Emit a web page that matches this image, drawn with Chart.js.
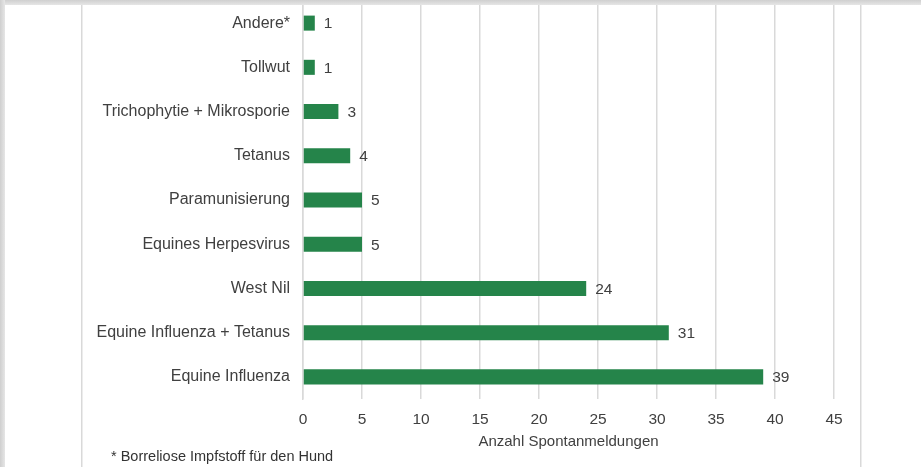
<!DOCTYPE html>
<html>
<head>
<meta charset="utf-8">
<script src="https://cdn.jsdelivr.net/npm/chart.js@4"></script>
<style>
  html, body { margin: 0; padding: 0; background: #fff; }
  canvas { display: block; }
</style>
</head>
<body>
<canvas id="chart" width="921" height="467"></canvas>
<script>
const categories = [
  "Andere*",
  "Tollwut",
  "Trichophytie + Mikrosporie",
  "Tetanus",
  "Paramunisierung",
  "Equines Herpesvirus",
  "West Nil",
  "Equine Influenza + Tetanus",
  "Equine Influenza"
];
const reports = [1, 1, 3, 4, 5, 5, 24, 31, 39];
const xTicks = [0, 5, 10, 15, 20, 25, 30, 35, 40, 45];
const axisTitle = "Anzahl Spontanmeldungen";
const footnote = "* Borreliose Impfstoff für den Hund";

const fontFamily = "'Liberation Sans', Arial, sans-serif";
const textColor = "#404040";
const gridColor = "#d9d9d9";

// value labels at the end of each bar, frame and footnote
const decorations = {
  id: "decorations",
  beforeDraw(chart) {
    const ctx = chart.ctx;
    ctx.save();
    ctx.fillStyle = gridColor;
    ctx.fillRect(81, 0, 1.5, chart.height);
    ctx.fillRect(860, 0, 1.5, chart.height);
    ctx.restore();
  },
  afterDatasetsDraw(chart) {
    const ctx = chart.ctx;
    const meta = chart.getDatasetMeta(0);
    ctx.save();
    ctx.font = "15.5px " + fontFamily;
    ctx.fillStyle = textColor;
    ctx.textAlign = "left";
    ctx.textBaseline = "middle";
    meta.data.forEach((bar, i) => {
      ctx.fillText(String(reports[i]), bar.x + 9, bar.y + 1);
    });
    ctx.restore();
  },
  afterDraw(chart) {
    const ctx = chart.ctx;
    ctx.save();
    ctx.font = "14.5px " + fontFamily;
    ctx.fillStyle = "#333";
    ctx.textAlign = "left";
    ctx.textBaseline = "middle";
    ctx.fillText(footnote, 111, 457);
    // frame shadow
    const top = ctx.createLinearGradient(0, 0, 0, 5);
    top.addColorStop(0, "#cfcfcf");
    top.addColorStop(1, "#e6e6e6");
    ctx.fillStyle = top;
    ctx.fillRect(0, 0, chart.width, 5);
    const left = ctx.createLinearGradient(0, 0, 5, 0);
    left.addColorStop(0, "#cfcfcf");
    left.addColorStop(1, "#e6e6e6");
    ctx.fillStyle = left;
    ctx.fillRect(0, 0, 5, chart.height);
    ctx.restore();
  }
};

new Chart(document.getElementById("chart"), {
  type: "bar",
  data: {
    labels: categories,
    datasets: [{
      data: reports,
      backgroundColor: "#25844a",
      borderWidth: 0,
      categoryPercentage: 1,
      barPercentage: 0.34
    }]
  },
  options: {
    indexAxis: "y",
    responsive: false,
    animation: false,
    layout: { padding: { top: 1, right: 87, left: 0, bottom: 0 } },
    plugins: {
      legend: { display: false },
      tooltip: { enabled: false }
    },
    scales: {
      x: {
        min: 0,
        max: 45,
        afterBuildTicks(scale) {
          scale.ticks = xTicks.map(v => ({ value: v }));
        },
        afterFit(scale) { scale.height = 68; },
        grid: { color: gridColor, lineWidth: 1.5, drawTicks: false },
        border: { display: false },
        ticks: {
          padding: 11,
          color: textColor,
          font: { family: fontFamily, size: 15.5 }
        },
        title: {
          display: true,
          text: axisTitle,
          color: textColor,
          font: { family: fontFamily, size: 15 },
          padding: { top: 0, bottom: 16 }
        }
      },
      y: {
        afterFit(scale) {
          scale.width = 303;
          scale.paddingTop = 0;
          scale.paddingBottom = 0;
        },
        grid: { display: false, drawTicks: false },
        border: { display: true, color: gridColor, width: 1.5 },
        ticks: {
          padding: 13,
          color: textColor,
          font: { family: fontFamily, size: 16 }
        }
      }
    }
  },
  plugins: [decorations]
});
</script>
</body>
</html>
